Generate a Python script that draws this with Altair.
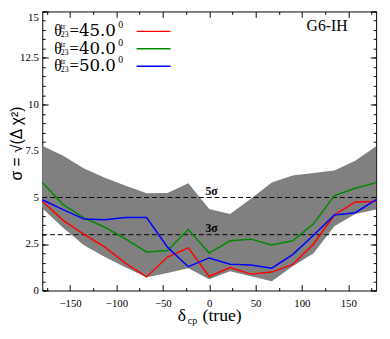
import altair as alt
import pandas as pd

# ---- data ----
delta = [-180, -157.5, -135, -112.5, -90, -67.5, -45, -22.5, 0, 22.5, 45, 67.5, 90, 112.5, 135, 157.5, 180]
sig_45 = [4.80, 3.77, 3.02, 2.33, 1.46, 0.73, 1.80, 2.29, 0.75, 1.23, 0.88, 0.99, 1.40, 2.50, 4.06, 4.76, 4.78]
sig_40 = [5.80, 4.62, 3.90, 3.40, 2.76, 2.07, 2.15, 3.28, 2.01, 2.67, 2.76, 2.45, 2.67, 3.59, 5.10, 5.50, 5.80]
sig_50 = [4.88, 4.35, 3.84, 3.80, 3.92, 3.92, 2.33, 1.28, 1.75, 1.41, 1.37, 1.20, 1.93, 2.97, 4.06, 4.18, 4.88]
band_hi = [7.78, 7.24, 6.56, 6.06, 5.63, 5.23, 5.24, 5.77, 4.38, 4.11, 4.93, 5.80, 6.18, 6.32, 6.45, 6.97, 7.76]
band_lo = [4.42, 3.37, 2.43, 1.80, 1.23, 0.71, 0.94, 1.20, 0.60, 1.03, 0.76, 0.50, 1.30, 2.00, 3.45, 4.11, 4.36]

series_names = ["45.0", "40.0", "50.0"]
series_colors = ["#ff0000", "#008800", "#0000ff"]
legend_rows = [13.93, 13.0, 12.05]

sigma_levels = [5, 3]
sigma_labels = ["5σ", "3σ"]

x_major = [-150, -100, -50, 0, 50, 100, 150]
x_minor = [-175, -125, -75, -25, 25, 75, 125, 175]
y_major = [0, 2.5, 5, 7.5, 10, 12.5, 15]
y_minor = [i * 0.5 for i in range(31)]

# ---- tables ----
df_band = pd.DataFrame({"delta": delta, "lo": band_lo, "hi": band_hi})
rows = []
for name, vals in zip(series_names, [sig_45, sig_40, sig_50]):
    for d, v in zip(delta, vals):
        rows.append({"delta": d, "sigma": v, "series": name})
df_lines = pd.DataFrame(rows)
df_leg = pd.DataFrame({"series": series_names, "ly": legend_rows})
df_sig = pd.DataFrame({"s": sigma_levels, "lab": sigma_labels})
df_one = pd.DataFrame({"k": [0]})

SERIF = "Liberation Serif"
SERIF2 = "DejaVu Serif"
SANS = "Liberation Sans"
xs = alt.Scale(domain=[-180, 180], nice=False, zero=False)
ys = alt.Scale(domain=[0, 15], nice=False, zero=False)
color = alt.Color("series:N", scale=alt.Scale(domain=series_names, range=series_colors), legend=None)


def axis(orient, values, size, labels=False, domain=True):
    kw = dict(orient=orient, values=values, tickSize=alt.ExprRef(expr=str(-size)),
              grid=False, title=None, domain=domain, domainColor="black", domainWidth=1,
              tickColor="black", tickWidth=1, labels=labels)
    if labels:
        kw.update(labelExpr="format(datum.value, '')", labelFont=SERIF,
                  labelFontSize=11, labelColor="black",
                  labelPadding=13 if orient == "bottom" else 10)
        if orient == "left":
            kw.update(labelBaseline={"condition": {"test": "datum.value === 15", "value": "top"},
                                     "value": "middle"})
    return alt.Axis(**kw)


def XD(v):
    return alt.XDatum(v, axis=None)


def YD(v):
    return alt.YDatum(v, axis=None)


band = alt.Chart(df_band).mark_area(color="#808080").encode(
    x=alt.X("delta:Q", scale=xs, axis=axis("bottom", x_major, 6, labels=True)),
    y=alt.Y("lo:Q", scale=ys, axis=axis("left", y_major, 6, labels=True)),
    y2="hi:Q",
)

rules = alt.Chart(df_sig).mark_rule(color="black", strokeDash=[5, 3], strokeWidth=1).encode(
    y=alt.Y("s:Q", scale=ys, axis=None)
)
rule_text = alt.Chart(df_sig).mark_text(
    align="left", baseline="alphabetic", dy=-3, font=SERIF, fontSize=12, fontWeight="bold", color="black"
).encode(x=XD(-4.0), y=alt.Y("s:Q", scale=ys, axis=None), text="lab:N")

lines = alt.Chart(df_lines).mark_line(strokeWidth=1.5).encode(
    x=alt.X("delta:Q", scale=xs, axis=axis("bottom", x_minor, 3, domain=False)),
    y=alt.Y("sigma:Q", scale=ys, axis=axis("left", y_minor, 3, domain=False)),
    color=color,
    detail="series:N",
)

top_major = alt.Chart(df_band).mark_point(opacity=0).encode(
    x=alt.X("delta:Q", scale=xs, axis=axis("top", x_major, 6)),
    y=alt.Y("hi:Q", scale=ys, axis=axis("right", y_major, 6)),
)
top_minor = alt.Chart(df_band).mark_point(opacity=0).encode(
    x=alt.X("delta:Q", scale=xs, axis=axis("top", x_minor, 3, domain=False)),
    y=alt.Y("hi:Q", scale=ys, axis=axis("right", y_minor, 3, domain=False)),
)

# legend
leg_base = alt.Chart(df_leg)
leg_y = alt.Y("ly:Q", scale=ys, axis=None)
txt = dict(baseline="middle", color="black", align="left")
leg_theta = leg_base.mark_text(font=SERIF, fontSize=16, **txt).encode(
    x=XD(-167.0), y=leg_y, text=alt.value("θ"))
leg_tr = leg_base.mark_text(font=SERIF, fontSize=8, dy=-4, **txt).encode(
    x=XD(-160.0), y=leg_y, text=alt.value("tr"))
leg_23 = leg_base.mark_text(font=SERIF, fontSize=8, dy=4, **txt).encode(
    x=XD(-160.0), y=leg_y, text=alt.value("23"))
leg_eq = leg_base.mark_text(font=SERIF, fontSize=17, **txt).encode(
    x=XD(-150.5), y=leg_y, text=alt.value("="))
leg_val = leg_base.mark_text(font=SERIF2, fontSize=17, **txt).encode(
    x=XD(-140.5), y=leg_y, text="series:N")
leg_sup = leg_base.mark_text(font=SERIF, fontSize=10, dy=-6, **txt).encode(
    x=XD(-98.0), y=leg_y, text=alt.value("0"))
leg_line = leg_base.mark_rule(strokeWidth=1.5).encode(
    x=XD(-78.3), x2=alt.X2Datum(-41.7), y=leg_y, color=color)

one = alt.Chart(df_one)
label_g6 = one.mark_text(font=SERIF, fontSize=16, **txt).encode(
    x=XD(105), y=YD(14.2), text=alt.value("G6-IH"))

# axis titles as text
xt_delta = one.mark_text(align="left", baseline="alphabetic", font=SERIF, fontSize=18, color="black").encode(
    x=XD(-33.8), y=YD(-1.65), text=alt.value("δ"))
xt_cp = one.mark_text(align="left", baseline="alphabetic", font=SERIF, fontSize=10, dy=3, color="black").encode(
    x=XD(-23.0), y=YD(-1.65), text=alt.value("cp"))
xt_rest = one.mark_text(align="left", baseline="alphabetic", font=SERIF, fontSize=18, color="black").encode(
    x=XD(-7.2), y=YD(-1.65), text=alt.value("(true)"))
yt = one.mark_text(align="center", baseline="middle", angle=270, font=SANS,
                   fontSize=16, color="black").encode(
    x=XD(-207.0), y=YD(7.9), text=alt.value("σ = √(Δ χ²)"))

chart = alt.layer(
    band, rules, rule_text, lines, top_major, top_minor,
    leg_theta, leg_tr, leg_23, leg_eq, leg_val, leg_sup, leg_line,
    label_g6, xt_delta, xt_cp, xt_rest, yt,
).resolve_axis(x="independent", y="independent").properties(
    width=341, height=285,
    autosize=alt.AutoSizeParams(type="none"),
    padding={"left": 35, "top": 0, "right": 6, "bottom": 46},
    background="white",
).configure_view(stroke=None)

chart.save("out.html", embed_options={"renderer": "svg", "actions": False})
